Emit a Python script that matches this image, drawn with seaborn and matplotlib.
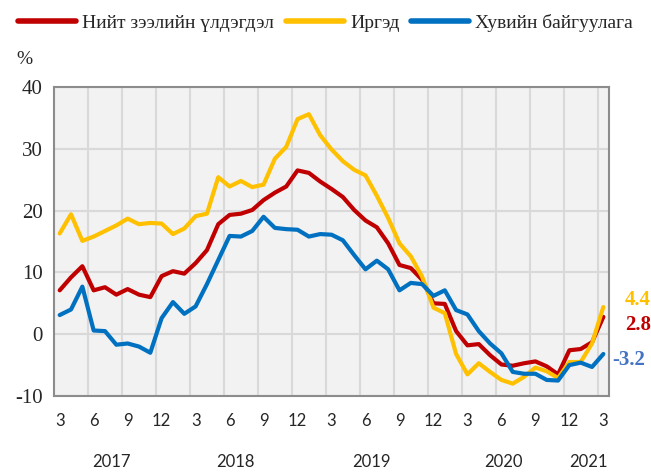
import numpy as np
import pandas as pd
import seaborn as sns
import matplotlib.pyplot as plt
import matplotlib.transforms as mtransforms
from matplotlib.lines import Line2D

# monthly series, 2017-03 .. 2021-03 (% yoy)
months = [3, 4, 5, 6, 7, 8, 9, 10, 11, 12] + list(range(1, 13)) * 3 + [1, 2, 3]
total = [7.1, 9.2, 11.0, 7.1, 7.6, 6.4, 7.3, 6.4, 6.0, 9.4,
         10.2, 9.8, 11.5, 13.6, 17.8, 19.3, 19.5, 20.1, 21.7, 22.9, 23.9, 26.5,
         26.1, 24.7, 23.5, 22.2, 20.1, 18.4, 17.3, 14.7, 11.2, 10.7, 8.8, 5.0,
         4.9, 0.5, -1.8, -1.6, -3.4, -4.9, -5.1, -4.7, -4.4, -5.2, -6.5, -2.6,
         -2.4, -1.3, 2.8]
households = [16.3, 19.4, 15.1, 15.8, 16.7, 17.6, 18.7, 17.8, 18.0, 17.9,
              16.2, 17.1, 19.1, 19.5, 25.4, 23.9, 24.8, 23.8, 24.2, 28.4, 30.3, 34.8,
              35.6, 32.2, 29.9, 28.0, 26.6, 25.7, 22.4, 18.8, 14.7, 12.6, 9.3, 4.3,
              3.4, -3.2, -6.5, -4.7, -6.1, -7.4, -8.0, -6.9, -5.4, -6.0, -7.1, -4.5,
              -4.5, -1.5, 4.4]
business = [3.1, 4.0, 7.7, 0.6, 0.5, -1.7, -1.5, -2.0, -3.0, 2.6,
            5.2, 3.3, 4.5, 8.1, 12.0, 15.9, 15.8, 16.7, 19.0, 17.2, 17.0, 16.9,
            15.8, 16.2, 16.1, 15.2, 12.8, 10.5, 11.9, 10.5, 7.1, 8.3, 8.1, 6.2,
            7.1, 3.9, 3.2, 0.5, -1.5, -3.1, -6.1, -6.4, -6.4, -7.4, -7.5, -5.0,
            -4.6, -5.3, -3.2]
years = ['2017', '2018', '2019', '2020', '2021']
year_pos = [4.6, 15.5, 27.5, 39.2, 46.7]

names = ['Нийт зээлийн үлдэгдэл', 'Иргэд', 'Хувийн байгуулага']
colors = ['#C00000', '#FFC000', '#0070C0']
label_colors = ['#C00000', '#FFC000', '#4472C4']

idx = np.arange(len(total))
df = pd.DataFrame({'i': np.tile(idx, 3),
                   'value': total + households + business,
                   'series': np.repeat(names, len(idx))})

sns.set_style('white')
serif = ['Liberation Serif', 'DejaVu Serif']
plt.rcParams['font.family'] = serif
plt.rcParams['axes.unicode_minus'] = False

fig = plt.figure(figsize=(6.51, 4.72), dpi=100)
ax = fig.add_axes([0.083, 0.161, 0.8525, 0.6547])
ax.set_facecolor('#F2F2F2')

sns.lineplot(data=df, x='i', y='value', hue='series', palette=colors,
             hue_order=names, linewidth=3, ax=ax, legend=False)

ax.set_xlim(-0.5, 48.5)
ax.set_ylim(-10, 40)
ax.set_yticks(range(-10, 41, 10))
ax.set_xticks(idx[::3])
ax.set_xticklabels([str(m) for m in months[::3]], family=['Lato', 'DejaVu Sans'], fontsize=12)
ax.set_xticks(np.arange(2.5, 48, 3), minor=True)
ax.tick_params(axis='y', labelsize=15, length=0, pad=8)
ax.tick_params(axis='x', which='both', length=0, pad=12)
ax.grid(axis='y', which='major', color='#D9D9D9', linewidth=1.5)
ax.grid(axis='x', which='minor', color='#D9D9D9', linewidth=1.5)
ax.set_axisbelow(True)
for s in ax.spines.values():
    s.set_color('#8C8C8C')
    s.set_linewidth(1.5)
ax.set_xlabel('')
ax.set_ylabel('')

trans = mtransforms.blended_transform_factory(ax.transData, ax.transAxes)
for y, p in zip(years, year_pos):
    ax.text(p, -0.215, y, transform=trans, ha='center', va='center',
            family=['Lato', 'DejaVu Sans'], fontsize=12)

fig.text(0.038, 0.875, '%', fontsize=14, ha='center', va='center')

# end values
ends = [(households[-1], 1, 0.960, 0.364),
        (total[-1], 0, 0.960, 0.311),
        (business[-1], 2, 0.941, 0.237)]
for v, k, xx, yy in ends:
    fig.text(xx, yy, f'{v:.1f}', color=label_colors[k], fontsize=15,
             fontweight='bold', ha='left', va='center')

handles = [Line2D([0], [0], color=c, lw=4) for c in colors]
fig.legend(handles, names, loc='upper center', bbox_to_anchor=(0.5, 1.0), ncol=3,
           frameon=False, fontsize=14, handlelength=3.0, handletextpad=0.3,
           columnspacing=0.6, borderaxespad=0.3)

fig.savefig('out.png', dpi=100)
